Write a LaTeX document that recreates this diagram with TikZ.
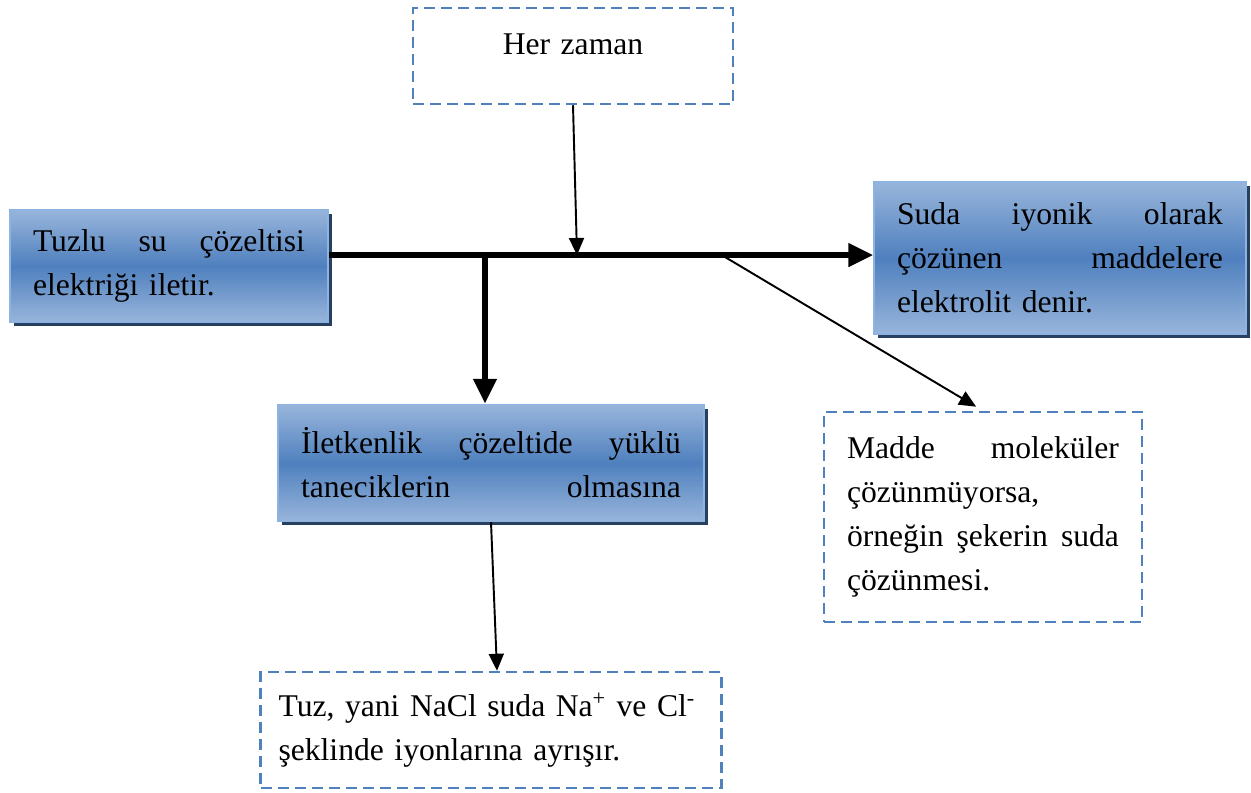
\documentclass[tikz,border=0pt]{standalone}
\usepackage{fontspec}
\setmainfont{Liberation Serif}
\usepackage{xcolor}
\usepackage{tikz}
\usetikzlibrary{arrows.meta,positioning,calc,shadows}

\definecolor{boxlight}{HTML}{98B5DB}
\definecolor{boxdark}{HTML}{4F80BE}
\definecolor{boxline}{HTML}{8CB3E2}
\definecolor{boxshadow}{HTML}{27405F}
\definecolor{dashblue}{HTML}{4F81BD}

\begin{document}
\begin{tikzpicture}[x=0.02cm,y=-0.02cm,
  txt/.style={font=\fontsize{18pt}{25pt}\selectfont,align=left},
  bluebox/.style={txt,draw=boxline,line width=0.8pt,top color=boxlight,bottom color=boxlight,middle color=boxdark,
    drop shadow={shadow xshift=0.08cm,shadow yshift=-0.08cm,fill=boxshadow,opacity=1},inner xsep=0.46cm},
  dashbox/.style={txt,draw=dashblue,line width=0.05cm,dash pattern=on 0.22cm off 0.12cm,inner xsep=0.46cm},
  thick arrow/.style={line width=0.12cm,-{Triangle[length=0.5cm,width=0.45cm]}},
  thin arrow/.style={line width=1.1pt,-{Triangle[length=0.34cm,width=0.3cm]}}]
\useasboundingbox (0,0) rectangle (1251,792);
\node[bluebox,text width=5.44cm,minimum height=2.24cm] (tuzlu) at (169,266) {Tuzlu\hfill su\hfill çözeltisi\\elektriği iletir.};
\node[bluebox,text width=6.52cm,minimum height=3.04cm] (suda) at (1060,258) {Suda\hfill iyonik\hfill olarak\\çözünen\hfill maddelere\\elektrolit denir.};
\node[bluebox,text width=7.6cm,minimum height=2.34cm] (iletken) at (491,463) {İletkenlik\hfill çözeltide\hfill yüklü\\taneciklerin\hfill olmasına};
\node[dashbox,text width=5.48cm,align=center,minimum height=1.92cm] (her) at (573,56) {Her zaman\\[-0.4cm]\mbox{}};
\node[dashbox,text width=5.44cm,minimum height=4.2cm] (madde) at (983,517) {Madde\hfill moleküler\\çözünmüyorsa,\\örneğin\hfill şekerin\hfill suda\\çözünmesi.};
\node[dashbox,text width=8.5cm,inner xsep=0.36cm,minimum height=2.32cm] (tuz) at (491,730) {\mbox{Tuz, yani NaCl suda Na\textsuperscript{+} ve Cl\textsuperscript{-}}\\şeklinde iyonlarına ayrışır.};
% connectors
\coordinate (jline) at (485,255);
\coordinate (jher) at (577,255);
\coordinate (jdiag) at (725,257);
\draw[thick arrow] (tuzlu.east |- jline) -- (suda.west |- jline);
\draw[thick arrow] (jline) -- (jline |- iletken.north);
\draw[thin arrow] (her.south) -- (jher);
\draw[thin arrow,shorten >=0.16cm] (jdiag) -- (madde.north);
\draw[thin arrow] (iletken.south) -- ([xshift=0.12cm]tuz.north);
\end{tikzpicture}
\end{document}
